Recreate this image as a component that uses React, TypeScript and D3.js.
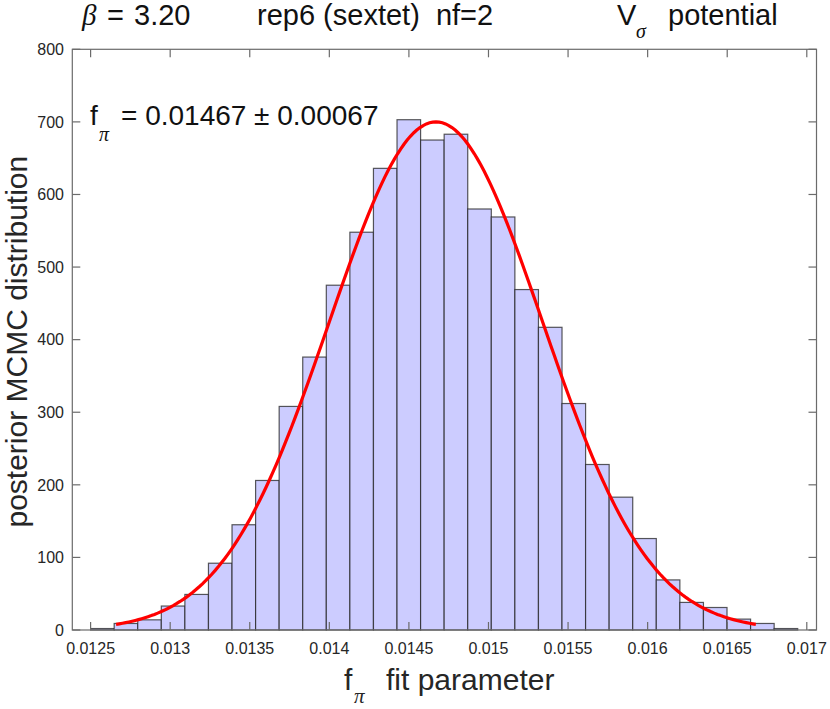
import React from 'react';
import * as d3 from 'd3';

// histogram of the MCMC chain (30 equal bins)
const binStart = 0.0125;
const binWidth = 0.0001481;
const counts = [
  2, 9, 14, 33, 49, 92, 145, 206, 308, 376,
  475, 548, 636, 703, 675, 683, 580, 569, 469, 417,
  312, 228, 183, 126, 69, 38, 31, 15, 9, 2,
];

// gaussian fit shown in the annotation
const fitMean = 0.01467;
const fitSigma = 0.00067;
const fitPeak = 700;

const xTicks = [0.0125, 0.013, 0.0135, 0.014, 0.0145, 0.015, 0.0155, 0.016, 0.0165, 0.017];
const xTickLabels = ['0.0125', '0.013', '0.0135', '0.014', '0.0145', '0.015', '0.0155', '0.016', '0.0165', '0.017'];
const yTicks = [0, 100, 200, 300, 400, 500, 600, 700, 800];

const W = 830;
const H = 709;
const margin = { top: 49.3, right: 13.5, bottom: 79, left: 72.3 };
const font = '"Liberation Sans", Arial, Helvetica, sans-serif';
const greek = '"Liberation Serif", "Times New Roman", serif';

const App: React.FC = () => {
  const x = d3.scaleLinear()
    .domain([0.012385, 0.017061])
    .range([margin.left, W - margin.right]);
  const y = d3.scaleLinear()
    .domain([0, 800])
    .range([H - margin.bottom, margin.top]);

  const bins = counts.map((c, i) => ({
    x0: binStart + i * binWidth,
    x1: binStart + (i + 1) * binWidth,
    count: c,
  }));

  // curve drawn over mean +/- 3 sigma like the original fit plot
  const curveX = d3.range(0, 201).map(i => fitMean - 3 * fitSigma + (i / 200) * 6 * fitSigma);
  const line = d3.line<number>()
    .x(d => x(d))
    .y(d => y(fitPeak * Math.exp(-((d - fitMean) ** 2) / (2 * fitSigma ** 2))));

  const x0 = margin.left;
  const x1 = W - margin.right;
  const y0 = H - margin.bottom;
  const y1 = margin.top;
  const tick = 8;
  const axisColor = '#6b6b6b';

  return (
    <svg width={W} height={H} style={{ position: 'absolute', left: 0, top: 0, background: '#fff' }}>
      {/* bars */}
      <g>
        {bins.map((b, i) => (
          <rect
            key={i}
            x={x(b.x0)}
            y={y(b.count)}
            width={x(b.x1) - x(b.x0)}
            height={y(0) - y(b.count)}
            fill="#ccccff"
            stroke="#222"
            strokeOpacity={0.75}
            strokeWidth={1.2}
          />
        ))}
      </g>

      {/* fit */}
      <path d={line(curveX) || ''} fill="none" stroke="#ff0000" strokeWidth={3.2} />

      {/* box and ticks */}
      <rect x={x0} y={y1} width={x1 - x0} height={y0 - y1} fill="none" stroke={axisColor} strokeWidth={1.2} />
      {xTicks.map((t, i) => (
        <g key={'xt' + i}>
          <line x1={x(t)} x2={x(t)} y1={y0} y2={y0 - tick} stroke={axisColor} strokeWidth={1.2} />
          <line x1={x(t)} x2={x(t)} y1={y1} y2={y1 + tick} stroke={axisColor} strokeWidth={1.2} />
          <text x={x(t)} y={654} textAnchor="middle" fontFamily={font} fontSize={16} fill="#262626">
            {xTickLabels[i]}
          </text>
        </g>
      ))}
      {yTicks.map((t, i) => (
        <g key={'yt' + i}>
          <line x1={x0} x2={x0 + tick} y1={y(t)} y2={y(t)} stroke={axisColor} strokeWidth={1.2} />
          <line x1={x1} x2={x1 - tick} y1={y(t)} y2={y(t)} stroke={axisColor} strokeWidth={1.2} />
          <text x={64} y={y(t)} dy="0.36em" textAnchor="end" fontFamily={font} fontSize={16} fill="#262626">
            {t}
          </text>
        </g>
      ))}

      {/* title */}
      <g fontFamily={font} fontSize={29} fill="#111">
        <text x={82} y={24.5} fontFamily={greek} fontStyle="italic">β</text>
        <text x={107} y={24.5}>=</text>
        <text x={134} y={24.5}>3.20</text>
        <text x={257} y={24.5} xmlSpace="preserve">rep6 (sextet)  nf=2</text>
        <text x={617} y={24.5}>V</text>
        <text x={636} y={38} fontFamily={greek} fontStyle="italic" fontSize={20}>σ</text>
        <text x={668} y={24.5}>potential</text>
      </g>

      {/* annotation */}
      <g fontFamily={font} fontSize={28} fill="#111">
        <text x={90} y={125}>f</text>
        <text x={99} y={141} fontFamily={greek} fontStyle="italic" fontSize={20}>π</text>
        <text x={121} y={125}>= 0.01467 ± 0.00067</text>
      </g>

      {/* axis labels */}
      <g fontFamily={font} fontSize={30} fill="#262626">
        <text x={344} y={690}>f</text>
        <text x={354} y={703} fontFamily={greek} fontStyle="italic" fontSize={21}>π</text>
        <text x={386} y={690}>fit parameter</text>
        <text transform={`translate(27, ${(y0 + y1) / 2 + 2}) rotate(-90)`} textAnchor="middle">
          posterior MCMC distribution
        </text>
      </g>
    </svg>
  );
};

export default App;
